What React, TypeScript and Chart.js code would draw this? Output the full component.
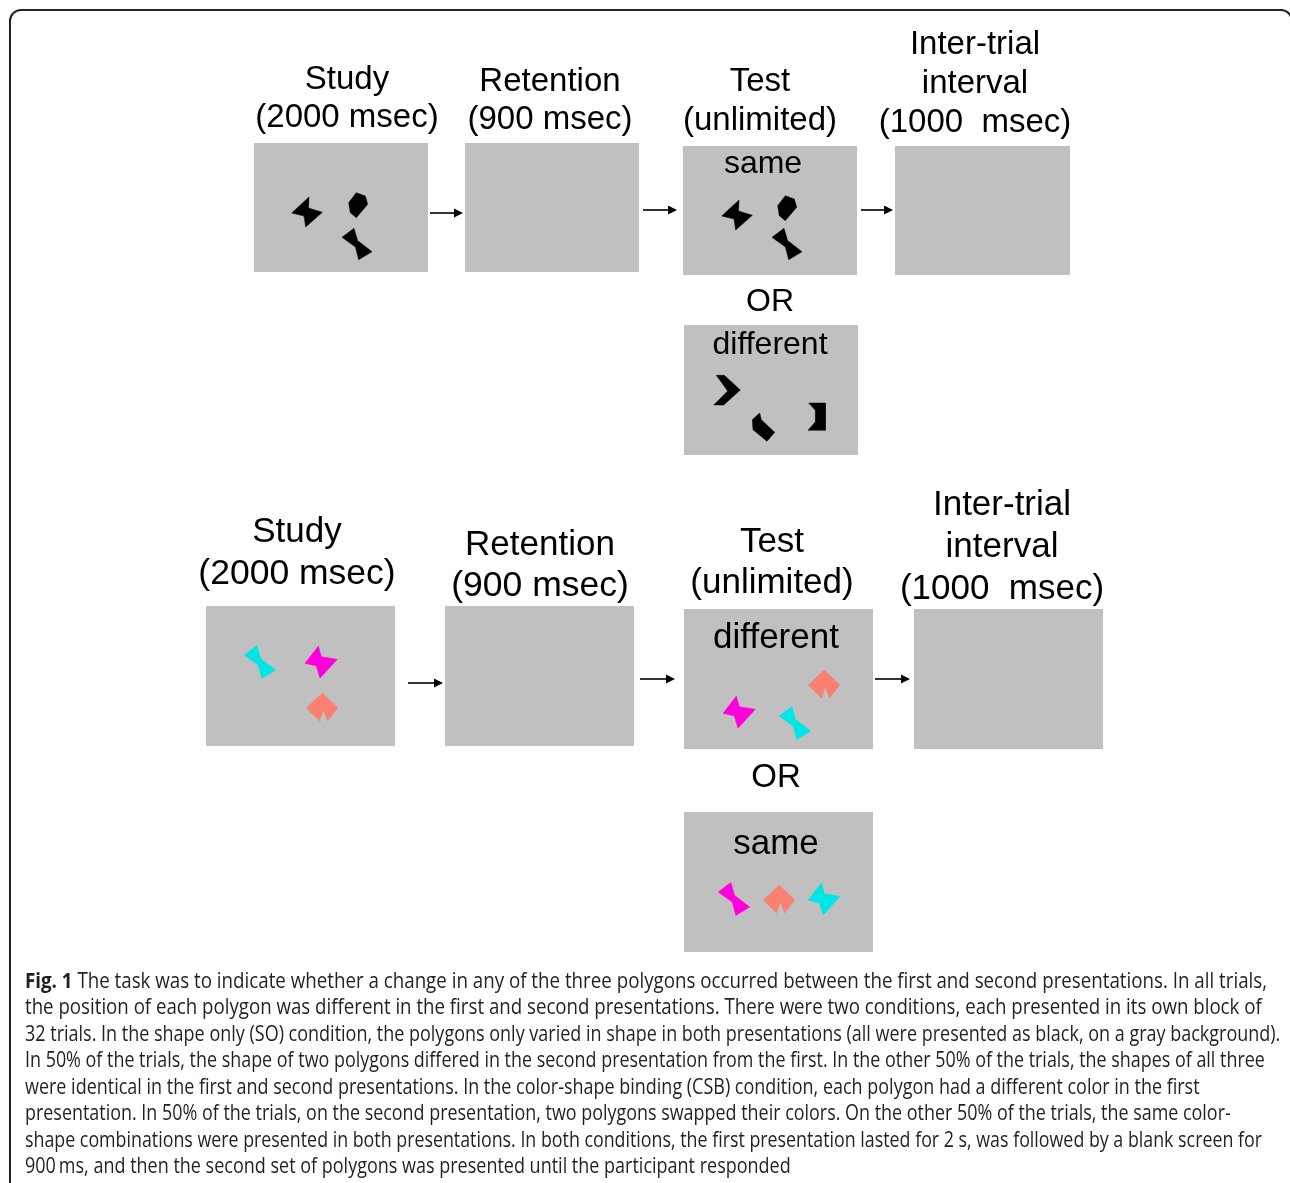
import React, { useEffect, useLayoutEffect, useRef } from "react";
import { Chart, registerables } from "chart.js";

Chart.register(...registerables);

// ---------- diagram data (value space: x 0..1290, y 0..1183) ----------
const PANELS: number[][] = [
  [254, 143, 428, 272],
  [465, 143, 639, 272],
  [683, 146, 857, 275],
  [895, 146, 1070, 275],
  [684, 325, 858, 455],
  [206, 606, 395, 746],
  [445, 606, 634, 746],
  [684, 609, 873, 749],
  [914, 609, 1103, 749],
  [684, 812, 873, 952],
];

const ARROWS: number[][] = [
  [430, 463, 213],
  [643, 677, 210],
  [861, 893, 210],
  [408, 443, 683],
  [640, 675, 679],
  [875, 910, 679],
];

const SHAPES: Record<string, number[][]> = {
  bowtie: [[2, -15], [1.5, -4], [15.3, 0.3], [-1.3, 15], [-3, 4], [-15.3, 1]],
  bowtieB: [[-2.4, -14.5], [0.3, -4.8], [14.8, -2.4], [-0.9, 14.8], [-4.2, 3.6], [-14.5, 1.2]],
  hexagon: [[-1.7, -12.3], [7.3, -9], [9.7, -0.7], [-1.7, 12.7], [-7.7, 7.7], [-9.3, -2.3]],
  hourglass: [[-3, -15.7], [0.6, -3.4], [15, 7.7], [1.7, 15.7], [-1.6, 3], [-15, -6.7]],
  chevron: [[-10.7, -14.7], [-2.7, -14.7], [13.3, 0], [-3.3, 15], [-13.3, 15], [0.7, 1]],
  notchedHex: [[-3.3, -14], [-1.7, -7.3], [11.7, 5.3], [4, 14.3], [-10, 2.7], [-10.7, -7.3]],
  bracket: [[-8.3, -14], [8.3, -14], [8.3, 13.3], [-9, 13.3], [-1.7, 5], [-1.7, -6.7]],
  arrowNotch: [[0.3, -12.7], [14.3, 1], [5, 12.7], [1.3, 2.7], [-2.3, 12.7], [-14.3, 1]],
};

const BLACK = "#000000";
const CYAN = "#00e6e6";
const MAGENTA = "#ff00dc";
const SALMON = "#fa8072";

// [shape, centerX, centerY, scale, color]
const POLYGONS: [string, number, number, number, string][] = [
  ["bowtie", 307, 212, 1, BLACK],
  ["hexagon", 358, 205, 1, BLACK],
  ["hourglass", 357, 244, 1, BLACK],
  ["bowtie", 737, 215, 1, BLACK],
  ["hexagon", 787, 208, 1, BLACK],
  ["hourglass", 787, 244, 1, BLACK],
  ["chevron", 727, 390, 1, BLACK],
  ["notchedHex", 763, 427, 1, BLACK],
  ["bracket", 817, 417, 1, BLACK],
  ["hourglass", 260, 662, 1.05, CYAN],
  ["bowtieB", 321, 662, 1.1, MAGENTA],
  ["arrowNotch", 322, 707, 1.1, SALMON],
  ["arrowNotch", 824, 684, 1.1, SALMON],
  ["bowtieB", 739, 712, 1.1, MAGENTA],
  ["hourglass", 795, 723, 1.05, CYAN],
  ["hourglass", 734, 899, 1.05, MAGENTA],
  ["arrowNotch", 779, 899, 1.1, SALMON],
  ["bowtieB", 824, 899, 1.1, CYAN],
];

// [text, centerX, centerY, fontSize]
const LABELS: [string, number, number, number][] = [
  ["Study", 347, 80, 33],
  ["(2000 msec)", 347, 118, 33],
  ["Retention", 550, 82, 33],
  ["(900 msec)", 550, 120, 33],
  ["Test", 760, 82, 33],
  ["(unlimited)", 760, 121, 33],
  ["Inter-trial", 975, 45, 33],
  ["interval", 975, 84, 33],
  ["(1000  msec)", 975, 123, 33],
  ["same", 763, 164, 32],
  ["OR", 770, 302, 32],
  ["different", 770, 345, 32],
  ["Study", 297, 532, 35],
  ["(2000 msec)", 297, 574, 35.5],
  ["Retention", 540, 545, 35],
  ["(900 msec)", 540, 586, 35.5],
  ["Test", 772, 542, 35],
  ["(unlimited)", 772, 583, 35],
  ["Inter-trial", 1002, 505, 35],
  ["interval", 1002, 547, 35],
  ["(1000  msec)", 1002, 589, 35],
  ["different", 776, 638, 35],
  ["OR", 776, 778, 33],
  ["same", 776, 844, 35],
];

const CAPTION_LABEL = "Fig. 1";
const CAPTION_LINES: string[] = [
  " The task was to indicate whether a change in any of the three polygons occurred between the first and second presentations. In all trials,",
  "the position of each polygon was different in the first and second presentations. There were two conditions, each presented in its own block of",
  "32 trials. In the shape only (SO) condition, the polygons only varied in shape in both presentations (all were presented as black, on a gray background).",
  "In 50% of the trials, the shape of two polygons differed in the second presentation from the first. In the other 50% of the trials, the shapes of all three",
  "were identical in the first and second presentations. In the color-shape binding (CSB) condition, each polygon had a different color in the first",
  "presentation. In 50% of the trials, on the second presentation, two polygons swapped their colors. On the other 50% of the trials, the same color-",
  "shape combinations were presented in both presentations. In both conditions, the first presentation lasted for 2 s, was followed by a blank screen for",
  "900\u2009ms, and then the second set of polygons was presented until the participant responded",
];
// rendered width of each caption line in the reference
const CAPTION_WIDTHS: number[] = [1242, 1237, 1255, 1240, 1175, 1206, 1237, 766];

const W = 1290;
const H = 1183;

const closed = (pts: number[][]) => [
  ...pts.map(([x, y]) => ({ x, y })),
  { x: pts[0][0], y: pts[0][1] },
];

const labelPlugin = {
  id: "diagramLabels",
  afterDatasetsDraw(chart: any) {
    const { ctx, scales } = chart;
    const sx = scales.x;
    const sy = scales.y;
    ctx.save();
    ctx.fillStyle = "#000";
    ctx.textAlign = "center";
    ctx.textBaseline = "middle";
    for (const [t, lx, ly, size] of LABELS) {
      ctx.font = `${size}px "Liberation Sans", Arial, sans-serif`;
      ctx.fillText(t, sx.getPixelForValue(lx), sy.getPixelForValue(ly));
    }
    ctx.restore();
  },
};

export default function App() {
  const canvasRef = useRef<HTMLCanvasElement | null>(null);
  const lineRefs = useRef<(HTMLDivElement | null)[]>([]);

  useLayoutEffect(() => {
    lineRefs.current.forEach((el, i) => {
      if (!el) return;
      const natural = el.scrollWidth;
      const k = natural > 0 ? CAPTION_WIDTHS[i] / natural : 1;
      el.style.transform = `scaleX(${k})`;
    });
  }, []);

  useEffect(() => {
    const canvas = canvasRef.current;
    if (!canvas) return;
    const base = {
      pointRadius: 0,
      pointHoverRadius: 0,
      tension: 0,
    };
    const datasets: any[] = [];
    PANELS.forEach(([x0, y0, x1, y1]) => {
      datasets.push({
        ...base,
        data: closed([[x0, y0], [x1, y0], [x1, y1], [x0, y1]]),
        fill: "shape",
        backgroundColor: "#c0c0c0",
        borderColor: "rgba(0,0,0,0)",
        borderWidth: 0,
        order: 3,
      });
    });
    ARROWS.forEach(([x0, x1, y]) => {
      datasets.push({
        ...base,
        data: [{ x: x0, y }, { x: x1 - 6, y }],
        fill: false,
        borderColor: "#000",
        borderWidth: 1.6,
        order: 2,
      });
      datasets.push({
        ...base,
        data: closed([[x1, y], [x1 - 9, y - 4.5], [x1 - 9, y + 4.5]]),
        fill: "shape",
        backgroundColor: "#000",
        borderColor: "rgba(0,0,0,0)",
        borderWidth: 0,
        order: 2,
      });
    });
    POLYGONS.forEach(([name, cx, cy, s, color]) => {
      const pts = SHAPES[name].map(([px, py]) => [cx + px * s, cy + py * s]);
      datasets.push({
        ...base,
        data: closed(pts),
        fill: "shape",
        backgroundColor: color,
        borderColor: color,
        borderWidth: 0.5,
        order: 1,
      });
    });

    const chart = new Chart(canvas, {
      type: "line",
      data: { datasets },
      options: {
        animation: false,
        responsive: false,
        events: [],
        layout: { padding: 0 },
        scales: {
          x: { type: "linear", min: 0, max: W, display: false },
          y: { type: "linear", min: 0, max: H, reverse: true, display: false },
        },
        plugins: {
          legend: { display: false },
          tooltip: { enabled: false },
        },
      },
      plugins: [labelPlugin],
    } as any);
    return () => chart.destroy();
  }, []);

  return (
    <div
      style={{
        position: "absolute",
        left: 0,
        top: 0,
        width: W,
        height: H,
        overflow: "hidden",
        background: "#fff",
      }}
    >
      <canvas
        ref={canvasRef}
        width={W}
        height={H}
        style={{ position: "absolute", left: 0, top: 0, width: W, height: H }}
      />
      <div
        style={{
          position: "absolute",
          left: 9,
          top: 9,
          width: 1284,
          height: 1300,
          border: "2px solid #222",
          borderRadius: 12,
          boxSizing: "border-box",
          pointerEvents: "none",
        }}
      />
      <div
        style={{
          position: "absolute",
          left: 25,
          top: 967,
          fontFamily: '"Open Sans", sans-serif',
          fontSize: 21,
          lineHeight: "26.45px",
          color: "#231f20",
        }}
      >
        {CAPTION_LINES.map((line, i) => (
          <div
            key={i}
            ref={(el) => {
              lineRefs.current[i] = el;
            }}
            style={{
              whiteSpace: "pre",
              transformOrigin: "0 0",
              width: "max-content",
            }}
          >
            {i === 0 ? <b>{CAPTION_LABEL}</b> : null}
            {line}
          </div>
        ))}
      </div>
    </div>
  );
}
